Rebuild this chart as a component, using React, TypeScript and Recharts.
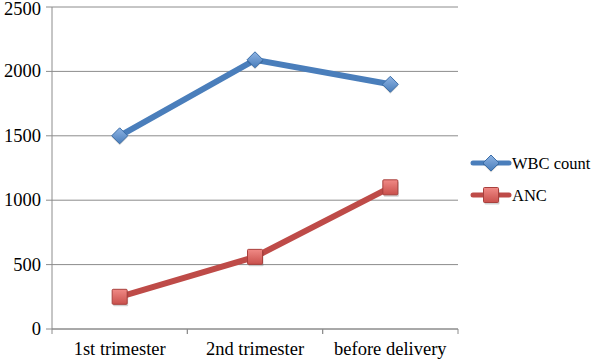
import { LineChart, Line, XAxis, YAxis, CartesianGrid, Legend } from 'recharts'

const stages = ['1st trimester', '2nd trimester', 'before delivery']
const wbcCount = [1500, 2090, 1900]
const anc = [250, 560, 1100]
const yTicks = [0, 500, 1000, 1500, 2000, 2500]

const data = stages.map((stage, i) => ({ stage, wbc: wbcCount[i], anc: anc[i] }))

const BLUE = '#4a7ebb'
const RED = '#be4b48'
const FONT = "'Liberation Serif', 'Times New Roman', serif"
const STEP = (458 - 52) / 3
const LEGEND_W = 126

function Diamond({ cx, cy }: any) {
  if (cx == null || cy == null) return null
  const r = 8
  return (
    <g>
      <path d={`M${cx},${cy - r + 1.5} L${cx + r},${cy + 1.5} L${cx},${cy + r + 1.5} L${cx - r},${cy + 1.5} Z`} fill="rgba(0,0,0,0.18)" />
      <path d={`M${cx},${cy - r} L${cx + r},${cy} L${cx},${cy + r} L${cx - r},${cy} Z`} fill="url(#gBlue)" stroke="#3b6ea8" strokeWidth={1} />
    </g>
  )
}

function Square({ cx, cy }: any) {
  if (cx == null || cy == null) return null
  const s = 7.5
  return (
    <g>
      <rect x={cx - s + 1} y={cy - s + 2} width={s * 2} height={s * 2} fill="rgba(0,0,0,0.18)" rx={1} />
      <rect x={cx - s} y={cy - s} width={s * 2} height={s * 2} fill="url(#gRed)" stroke="#a8403d" strokeWidth={1} rx={1} />
    </g>
  )
}

function StageTick({ x, y, payload }: any) {
  return (
    <g>
      <line x1={x - STEP / 2} y1={y - 8} x2={x - STEP / 2} y2={y - 3} stroke="#8c8c8c" />
      <line x1={x + STEP / 2} y1={y - 8} x2={x + STEP / 2} y2={y - 3} stroke="#8c8c8c" />
      <text x={x} y={y + 18} textAnchor="middle" fontFamily={FONT} fontSize={18.5} fill="#000">
        {payload.value}
      </text>
    </g>
  )
}

function ValueTick({ x, y, payload }: any) {
  return (
    <text x={x - 3} y={y} dy={6} textAnchor="end" fontFamily={FONT} fontSize={18.5} fill="#000">
      {payload.value}
    </text>
  )
}

function ChartLegend() {
  const items = [
    { label: 'WBC count', color: BLUE, dot: <Diamond cx={21} cy={10} /> },
    { label: 'ANC', color: RED, dot: <Square cx={21} cy={10} /> },
  ]
  return (
    <svg width={LEGEND_W} height={64} style={{ overflow: 'visible' }}>
      {items.map((it, i) => (
        <g key={it.label} transform={`translate(0, ${i * 32})`}>
          <line x1={3} y1={10} x2={39} y2={10} stroke={it.color} strokeWidth={5} strokeLinecap="round" />
          {it.dot}
          <text x={42} y={16} fontFamily={FONT} fontSize={16.5} fill="#000">{it.label}</text>
        </g>
      ))}
    </svg>
  )
}

export default function App() {
  return (
    <div style={{ position: 'absolute', left: 0, top: 0, width: 596, height: 361, background: '#fff', overflow: 'hidden' }}>
      <LineChart width={596} height={361} data={data} margin={{ top: 7, right: 138 - LEGEND_W, bottom: 0, left: 0 }}>
        <defs>
          <linearGradient id="gBlue" x1="0" y1="0" x2="0" y2="1">
            <stop offset="0" stopColor="#8fb4e3" />
            <stop offset="1" stopColor="#4a7ebb" />
          </linearGradient>
          <linearGradient id="gRed" x1="0" y1="0" x2="0" y2="1">
            <stop offset="0" stopColor="#f08a86" />
            <stop offset="1" stopColor="#c9504c" />
          </linearGradient>
        </defs>
        <CartesianGrid vertical={false} stroke="#8c8c8c" />
        <XAxis
          dataKey="stage"
          height={32}
          padding={{ left: STEP / 2, right: STEP / 2 }}
          axisLine={{ stroke: '#8c8c8c' }}
          tickLine={false}
          tick={<StageTick />}
          interval={0}
        />
        <YAxis
          domain={[0, 2500]}
          ticks={yTicks}
          width={52}
          axisLine={{ stroke: '#8c8c8c' }}
          tickLine={{ stroke: '#8c8c8c' }}
          tickSize={6}
          tick={<ValueTick />}
        />
        <Legend
          layout="vertical"
          align="right"
          verticalAlign="top"
          content={<ChartLegend />}
          wrapperStyle={{ left: 470, top: 153, width: LEGEND_W }}
        />
        <Line dataKey="wbc" name="WBC count" stroke={BLUE} strokeWidth={6} dot={<Diamond />} activeDot={false} isAnimationActive={false} />
        <Line dataKey="anc" name="ANC" stroke={RED} strokeWidth={6} dot={<Square />} activeDot={false} isAnimationActive={false} />
      </LineChart>
    </div>
  )
}
